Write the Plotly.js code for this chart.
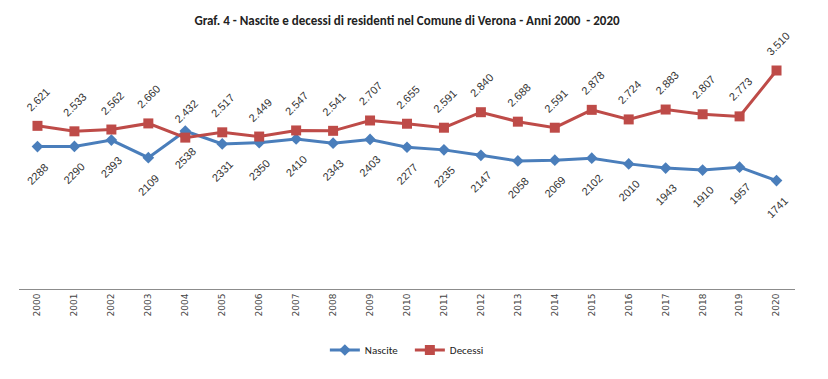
<!DOCTYPE html>
<html>
<head>
<meta charset="utf-8">
<script src="https://cdn.plot.ly/plotly-3.0.1.min.js"></script>
<style>html,body{margin:0;padding:0;background:#fff;}#chart{width:828px;height:379px;}</style>
</head>
<body>
<div id="chart"></div>
<script>
const years = ["2000","2001","2002","2003","2004","2005","2006","2007","2008","2009","2010","2011","2012","2013","2014","2015","2016","2017","2018","2019","2020"];
const nascite = [2288,2290,2393,2109,2538,2331,2350,2410,2343,2403,2277,2235,2147,2058,2069,2102,2010,1943,1910,1957,1741];
const decessi = [2621,2533,2562,2660,2432,2517,2449,2547,2541,2707,2655,2591,2840,2688,2591,2878,2724,2883,2807,2773,3510];

const blue = '#4A7EBB';
const red = '#BE4B48';
const labFont = {family: '"Liberation Sans", Arial, sans-serif', size: 11, color: '#333'};

function fmtDot(v){ return String(v).replace(/\B(?=(\d{3})+(?!\d))/g, '.'); }

const annotations = [];
years.forEach((y, i) => {
  annotations.push({x: i, y: decessi[i], xref: 'x', yref: 'y', text: fmtDot(decessi[i]), showarrow: false, textangle: -45, yshift: 27, xshift: 1, font: labFont});
  annotations.push({x: i, y: nascite[i], xref: 'x', yref: 'y', text: String(nascite[i]), showarrow: false, textangle: -45, yshift: -27, font: labFont});
});

const traces = [
  {x: years, y: nascite, name: 'Nascite', type: 'scatter', mode: 'lines+markers',
   line: {color: blue, width: 3}, marker: {symbol: 'diamond', size: 9, color: blue}},
  {x: years, y: decessi, name: 'Decessi', type: 'scatter', mode: 'lines+markers',
   line: {color: red, width: 3}, marker: {symbol: 'square', size: 10, color: red}}
];

const layout = {
  width: 828, height: 379,
  margin: {l: 19, r: 33, t: 40, b: 90},
  paper_bgcolor: '#fff', plot_bgcolor: '#fff',
  title: {text: '<b>Graf. 4 - Nascite e decessi di residenti nel Comune di Verona - Anni 2000  - 2020</b>',
          font: {family: 'Carlito, "Liberation Sans Narrow", "Liberation Sans", sans-serif', size: 13, color: '#222'},
          x: 0.5, xanchor: 'center', xref: 'paper', y: 1 - 20/379, yanchor: 'middle', yref: 'container'},
  xaxis: {type: 'category', showline: true, linecolor: '#8c8c8c', linewidth: 1, ticks: '', showgrid: false,
          zeroline: false, tickangle: -90, tickfont: {family: '"DejaVu Sans", sans-serif', size: 9, color: '#444'},
          range: [-0.5, 20.5]},
  yaxis: {visible: false, range: [0, 4000], showgrid: false, zeroline: false},
  showlegend: true,
  legend: {orientation: 'h', x: 0.495, xanchor: 'center', xref: 'container', y: 1 - 350/379, yanchor: 'middle', yref: 'container',
           entrywidth: 40, entrywidthmode: 'pixels',
           font: {family: 'Carlito, "Liberation Sans Narrow", "Liberation Sans", sans-serif', size: 11, color: '#222'}},
  annotations: annotations
};

Plotly.newPlot('chart', traces, layout, {displayModeBar: false, staticPlot: true});
</script>
</body>
</html>
